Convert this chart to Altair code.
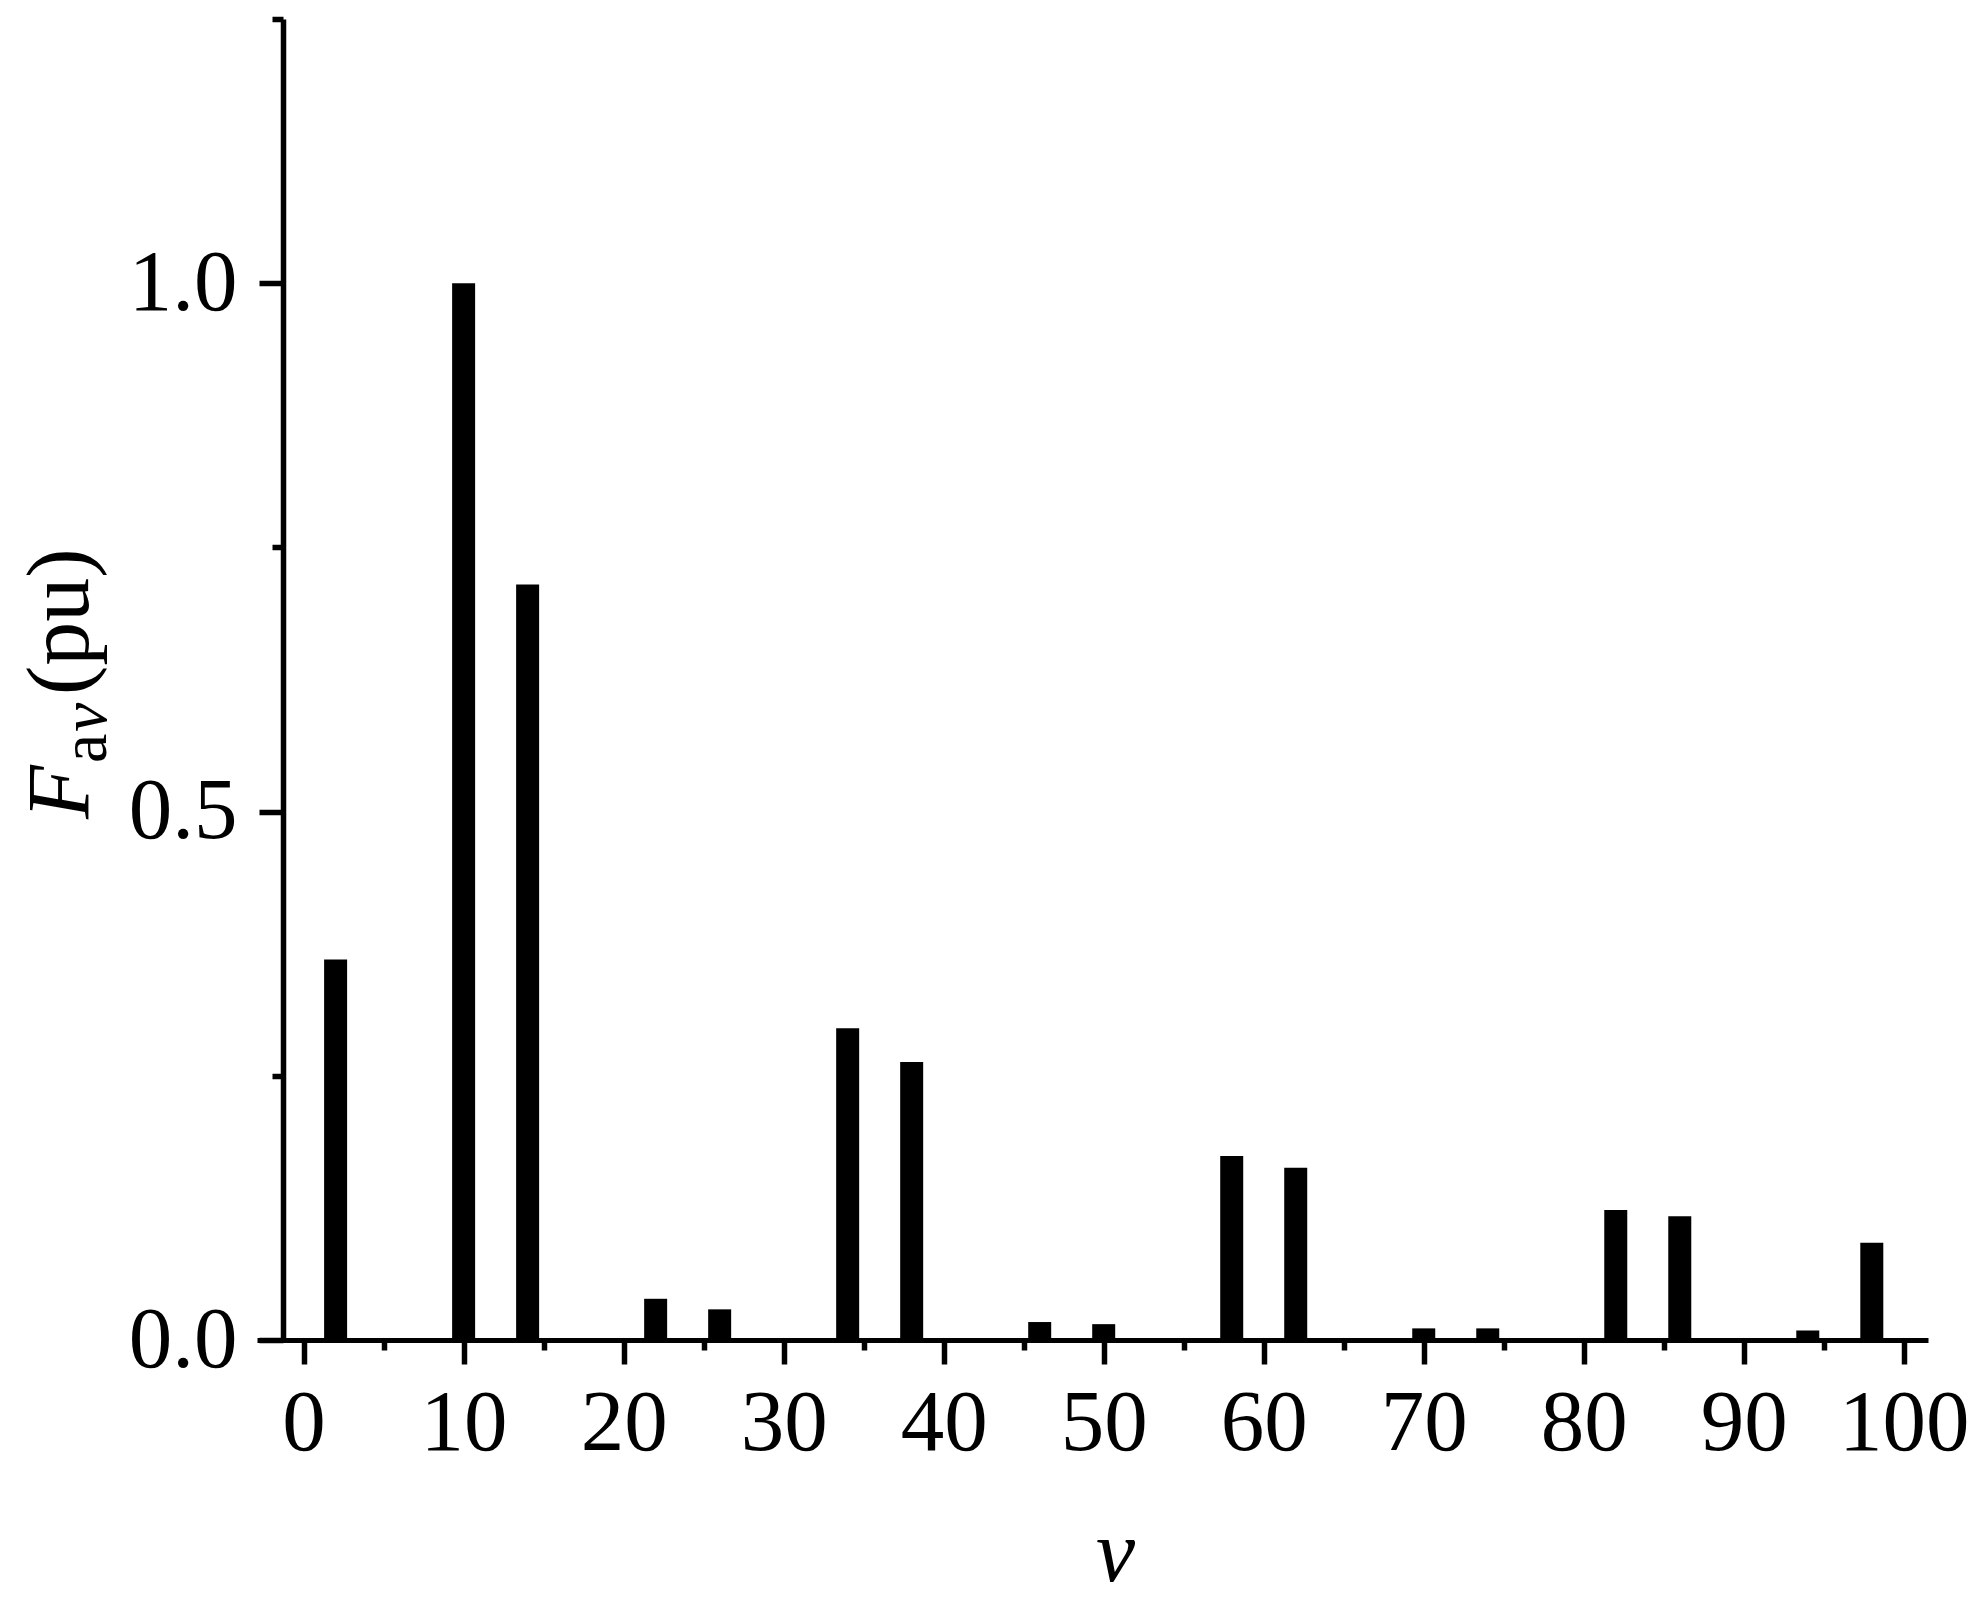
import altair as alt
import pandas as pd

# harmonic order and amplitude
nu = [2, 10, 14, 22, 26, 34, 38, 46, 50, 58, 62, 70, 74, 82, 86, 94, 98]
f_av = [0.360, 1.000, 0.715, 0.039, 0.029, 0.295, 0.263, 0.017, 0.015,
        0.174, 0.163, 0.011, 0.011, 0.123, 0.117, 0.009, 0.092]

x_ticks = list(range(0, 101, 5))
y_ticks = [0, 0.25, 0.5, 0.75, 1.0, 1.25]

df = pd.DataFrame({"nu": nu, "F": f_av})
serif = "Liberation Serif"

bars = alt.Chart(df).mark_bar(color="black", size=23, orient="vertical").encode(
    x=alt.X("nu:Q",
            scale=alt.Scale(domain=[-2.6, 101.2], nice=False, zero=False),
            axis=alt.Axis(values=x_ticks, grid=False,
                          labelExpr="datum.value % 10 === 0 ? datum.label : ''",
                          tickSize={"condition": {"test": "datum.value % 10 === 0", "value": 24}, "value": 10},
                          tickWidth=5.5, tickColor="black",
                          domainWidth=5, domainColor="black",
                          labelFont=serif, labelFontSize=87, labelColor="black",
                          labelPadding=16, labelOverlap=False, labelFlush=False,
                          title="ν", titleFont=serif, titleFontStyle="italic",
                          titleFontWeight="normal", titleFontSize=88, titleColor="black",
                          titleX=858, titleY=240, titleBaseline="alphabetic",
                          titleAlign="center")),
    y=alt.Y("F:Q",
            scale=alt.Scale(domain=[0, 1.25], nice=False),
            axis=alt.Axis(values=y_ticks, grid=False, offset=-26, title=None,
                          format=".1f",
                          labelExpr="datum.value % 0.5 === 0 ? datum.label : ''",
                          tickSize={"condition": {"test": "datum.value % 0.5 === 0", "value": 24}, "value": 11},
                          tickWidth=5.5, tickColor="black",
                          domainWidth=5.5, domainColor="black",
                          labelFont=serif, labelFontSize=87, labelColor="black",
                          labelPadding=22, labelOverlap=False, labelFlush=False)),
)


# y-axis title pieces: F, subscript a and nu, then (pu)
def title_piece(text, x, y, size, style):
    return alt.Chart(pd.DataFrame({"t": [text]})).mark_text(
        angle=270, align="left", baseline="alphabetic",
        font=serif, fontSize=size, fontStyle=style, color="black"
    ).encode(text="t:N", x=alt.value(x), y=alt.value(y))


pieces = [
    title_piece("F", -169, 800, 88, "italic"),
    title_piece("a", -151, 744, 66, "normal"),
    title_piece("ν", -151, 713, 66, "italic"),
    title_piece("(pu)", -169, 676, 88, "normal"),
]

chart = alt.layer(bars, *pieces).properties(
    width=1671, height=1321,
    autosize=alt.AutoSizeParams(type="none"),
    padding={"left": 249, "top": 11, "right": 52, "bottom": 262},
).configure_view(strokeWidth=0)

chart.save("out.html", embed_options={"renderer": "svg", "actions": False})
